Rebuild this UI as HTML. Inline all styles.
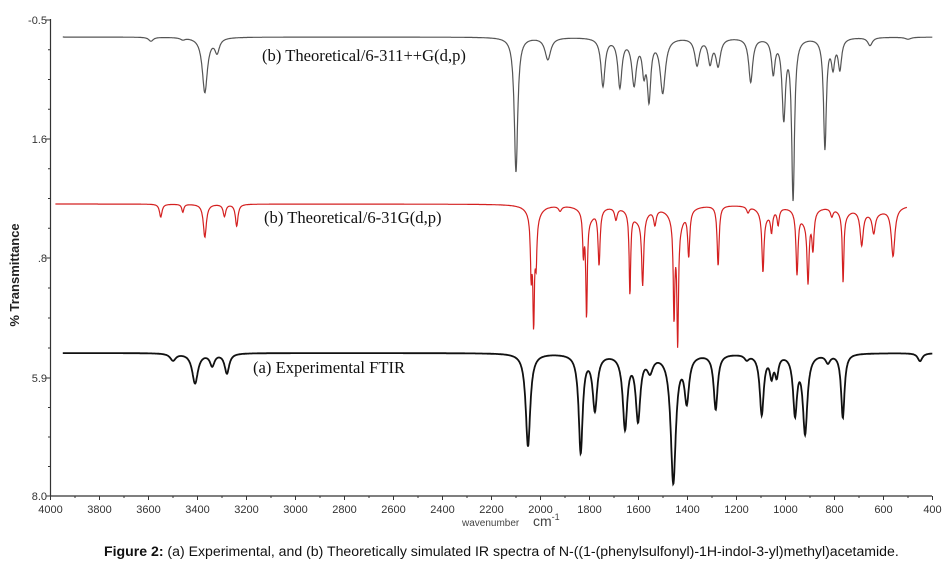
<!DOCTYPE html>
<html><head><meta charset="utf-8"><style>
html,body{margin:0;padding:0;background:#fff;width:944px;height:568px;overflow:hidden}
svg{display:block}
</style></head><body>
<svg id="s" width="944" height="568" viewBox="0 0 944 568" xmlns="http://www.w3.org/2000/svg" font-family="Liberation Sans, Arial, sans-serif">
<g id="axes" stroke="#333" stroke-width="1.2" fill="none">
<line x1="50.5" y1="19" x2="50.5" y2="496"/>
<line x1="50.5" y1="496" x2="932" y2="496"/>
</g>
<g id="ticks" stroke="#333" stroke-width="1"></g>
<g font-size="11" fill="#333" text-anchor="end">
<text x="47" y="24">-0.5</text>
<text x="47" y="143">1.6</text>
<text x="47" y="262">.8</text>
<text x="47" y="382">5.9</text>
<text x="47" y="500">8.0</text>
</g>
<g id="xl" font-size="11" fill="#333" text-anchor="middle"></g>
<text x="462" y="526" font-size="10" fill="#444">wavenumber</text>
<text x="533" y="526" font-size="14" fill="#444">cm<tspan font-size="9" dy="-6">-1</tspan></text>
<text transform="translate(19,275) rotate(-90)" font-size="13" font-weight="bold" fill="#222" text-anchor="middle">% Transmittance</text>
<g font-family="Liberation Serif, serif" font-size="16.6" fill="#111">
<text x="262" y="61">(b) Theoretical/6-311++G(d,p)</text>
<text x="264" y="223">(b) Theoretical/6-31G(d,p)</text>
<text x="253" y="373">(a)  Experimental FTIR</text>
</g>
<path id="g" fill="none" stroke="#555" stroke-width="1.2"/>
<path id="r" fill="none" stroke="#d42020" stroke-width="1.2"/>
<path id="b" fill="none" stroke="#111" stroke-width="1.8"/>
<text x="104" y="556" font-size="14.1" fill="#111"><tspan font-weight="bold">Figure 2:</tspan> (a) Experimental, and (b) Theoretically simulated IR spectra of N-((1-(phenylsulfonyl)-1H-indol-3-yl)methyl)acetamide.</text>
</svg>
<script>
var NS="http://www.w3.org/2000/svg";
function X(w){return 50.5+(4000-w)*0.245;}
var t=document.getElementById('ticks'),xl=document.getElementById('xl');
function ln(x1,y1,x2,y2){var l=document.createElementNS(NS,'line');l.setAttribute('x1',x1);l.setAttribute('y1',y1);l.setAttribute('x2',x2);l.setAttribute('y2',y2);t.appendChild(l);}
for(var w=4000;w>=400;w-=100){var x=X(w);ln(x,496,x,w%200==0?500:498);
 if(w%200==0){var tx=document.createElementNS(NS,'text');tx.setAttribute('x',x);tx.setAttribute('y',513);tx.textContent=w;xl.appendChild(tx);}}
var maj=[20,139,258,378,496];
for(var i=0;i<4;i++){var a=maj[i],b=maj[i+1];for(var k=0;k<4;k++){var y=a+(b-a)*k/4;ln(k==0?46:48,y,50.5,y);}}
ln(46,496,50.5,496);
function spec(id,base,w0,w1,peaks,hw,sc){
 var d="";
 for(var w=w0;w>=w1;w-=1.5){var s=0;
  for(var j=0;j<peaks.length;j++){var p=peaks[j],h=(p[2]||hw)*sc,u=(w-p[0])/h;s+=p[1]/(1+u*u);}
  d+=(d?"L":"M")+X(w).toFixed(1)+" "+(base+s).toFixed(1);}
 document.getElementById(id).setAttribute('d',d);}
spec('g',37,3950,400,[[3590,4,8],[3460,2],[3370,55,9],[3320,14,8],[2100,135,6],[1970,22,10],[1745,48,7],[1676,48,7],[1618,45,8],[1578,30,6],[1557,58,6],[1501,54,9],[1361,27,8],[1308,24,7],[1275,27,8],[1142,44,7],[1050,34,6],[1007,78,6],[969,160,5],[839,110,5],[806,27,6],[778,30,6],[655,8,8],[500,2,10]],8,1.4);
spec('r',204,3980,504,[[3550,13,5],[3460,8,4],[3370,33,6],[3290,12,5],[3240,22,5],[2038,55,3],[2028,100,3],[2018,40,3],[1920,5,6],[1825,40,3],[1812,100,3],[1761,55,4],[1692,12,5],[1635,82,3],[1583,68,4],[1533,15,5],[1455,95,3],[1440,118,3],[1395,45,4],[1275,60,4],[1153,6,5],[1092,58,4],[1057,20,4],[1030,16,4],[953,62,4],[908,64,4],[888,36,4],[811,8,5],[765,68,3],[689,34,6],[640,20,6],[561,48,7],
[2025,15,20],[1800,12,25],[1600,14,30],[1440,20,25],[1080,10,25],[920,14,25],[760,8,20],[640,8,60]],4,1.25);
spec('b',353,3950,400,[[3500,7,10],[3410,30,10],[3340,12,8],[3280,20,8],[2051,93,8],[1836,98,7],[1778,55,8],[1655,73,8],[1602,64,8],[1553,15,10],[1458,128,9],[1403,45,8],[1285,55,7],[1158,5,8],[1097,60,7],[1057,20,6],[1036,20,6],[961,58,7],[920,78,8],[827,8,8],[766,64,6],[451,8,8]],8,1.4);
</script>
</body></html>
